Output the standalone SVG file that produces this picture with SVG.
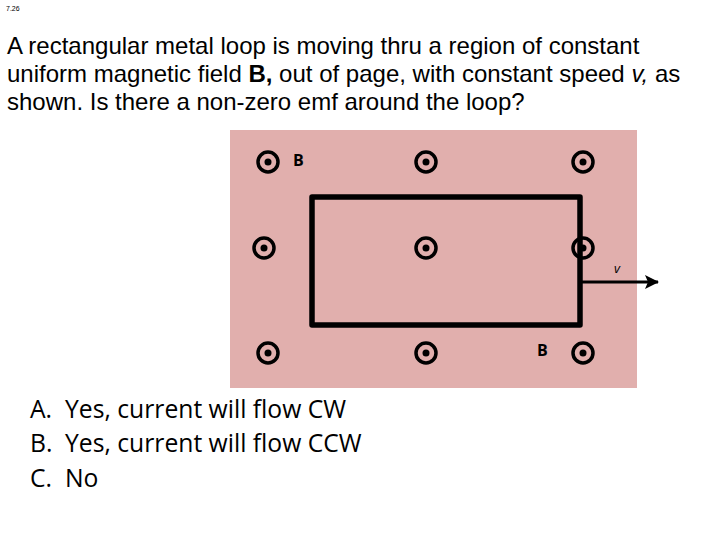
<svg xmlns="http://www.w3.org/2000/svg" width="720" height="540" viewBox="0 0 720 540">
<style>
.t{font-family:"Liberation Sans",Arial,sans-serif;font-size:24px;fill:#000}
.c{font-family:"Open Sans","DejaVu Sans",sans-serif;fill:#000}
.ring{fill:none;stroke:#000;stroke-width:3.5}
</style>
<defs>
<g id="dot"><circle r="10" class="ring"/><circle r="3.5" fill="#000"/></g>
<marker id="ah" markerWidth="14" markerHeight="14" refX="13" refY="7" orient="auto" markerUnits="userSpaceOnUse"><path d="M0,0 L14,7 L0,14 L3,7 Z" fill="#000"/></marker>
</defs>
<rect width="720" height="540" fill="#fff"/>
<text x="6" y="11" class="t" style="font-size:7px">7.26</text>
<text class="t"><tspan x="7" y="54">A rectangular metal loop is moving thru a region of constant</tspan><tspan x="7" y="82">uniform magnetic field <tspan font-weight="bold">B,</tspan> out of page, with constant speed <tspan font-style="italic">v,</tspan> as</tspan><tspan x="7" y="110">shown. Is there a non-zero emf around the loop?</tspan></text>
<g id="field">
<rect x="230" y="130" width="407" height="258" fill="#e1afad"/>
<use href="#dot" x="268" y="162"/><use href="#dot" x="426" y="162"/><use href="#dot" x="583" y="162"/>
<use href="#dot" x="264" y="248"/><use href="#dot" x="426" y="248"/><use href="#dot" x="583" y="248"/>
<use href="#dot" x="268" y="353"/><use href="#dot" x="426" y="353"/><use href="#dot" x="583" y="353"/>
<text x="293" y="166" class="c" font-size="16" font-weight="bold">B</text>
<text x="537" y="356" class="c" font-size="16" font-weight="bold">B</text>
</g>
<g id="loop"><rect x="312" y="197" width="268" height="128" fill="none" stroke="#000" stroke-width="5.5" stroke-linejoin="round"/></g>
<g id="connectors"><line x1="580" y1="282" x2="658" y2="282" stroke="#000" stroke-width="3" marker-end="url(#ah)"/></g>
<text x="614" y="273" class="c" font-size="13" font-style="italic">v</text>
<g class="c" font-size="24.7">
<text x="30" y="418">A.</text><text x="65" y="418">Yes, current will flow CW</text>
<text x="30" y="452">B.</text><text x="65" y="452">Yes, current will flow CCW</text>
<text x="30" y="487">C.</text><text x="65" y="487">No</text>
</g>
</svg>
